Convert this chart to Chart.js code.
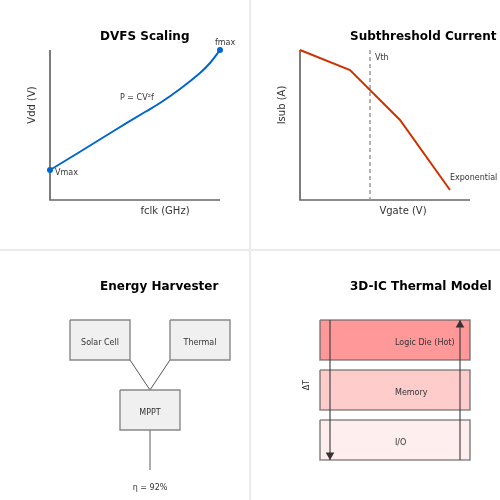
<!DOCTYPE html>
<html>
<head>
<meta charset="utf-8">
<script src="https://cdn.jsdelivr.net/npm/chart.js@4.4.1/dist/chart.umd.min.js"></script>
<style>
 html, body { margin: 0; padding: 0; background: #fff; }
 #board { display: block; }
</style>
</head>
<body>
<canvas id="board" width="500" height="500"></canvas>
<script>
// --- data (diagram units, 0..500 on both axes) ---
const panelTitles = ['DVFS Scaling', 'Subthreshold Current', 'Energy Harvester', '3D-IC Thermal Model'];

// DVFS curve (fclk vs Vdd)
const dvfsFreq = [50, 78, 112, 145, 160, 180, 200, 210, 220];
const dvfsVdd = [170, 153, 132, 112, 103, 89, 73, 63, 50];

// subthreshold current, piecewise
const vgate = [300, 350, 400, 450];
const isub = [50, 70, 120, 190];
const vthLevel = 370;

// energy harvester blocks
const harvesterBlocks = ['Solar Cell', 'Thermal', 'MPPT'];
const harvesterLeft = [70, 170, 120];
const harvesterTop = [320, 320, 390];
const harvesterWidth = 60;
const harvesterHeight = 40;
const efficiencyLabel = 'η = 92%';

// 3D-IC stack
const stackLayers = ['Logic Die (Hot)', 'Memory', 'I/O'];
const stackTop = [320, 370, 420];
const stackColors = ['#ff9999', '#ffcccc', '#ffeeee'];
const stackLeft = 320, stackRight = 470, stackHeight = 40;

function pts(xs, ys) {
 return xs.map((x, i) => ({ x: x, y: ys[i] }));
}
function box(x0, y0, w, h) {
 return [{x: x0, y: y0}, {x: x0 + w, y: y0}, {x: x0 + w, y: y0 + h}, {x: x0, y: y0 + h}, {x: x0, y: y0}];
}
function seg(data, color, width, extra) {
 return Object.assign({
  type: 'line', data: data, borderColor: color, borderWidth: width,
  pointRadius: 0, tension: 0, fill: false, clip: false, order: 5
 }, extra || {});
}

const datasets = [];

// panel separators
datasets.push(seg([{x: 250, y: 0}, {x: 250, y: 500}], '#ebebeb', 2, {order: 20}));
datasets.push(seg([{x: 0, y: 250}, {x: 500, y: 250}], '#ebebeb', 2, {order: 20}));

// axes of the two plots
datasets.push(seg([{x: 50, y: 50}, {x: 50, y: 200}, {x: 220, y: 200}], '#666', 1.7));
datasets.push(seg([{x: 300, y: 50}, {x: 300, y: 200}, {x: 470, y: 200}], '#666', 1.7));

// DVFS curve + end points
const dvfsPts = pts(dvfsFreq, dvfsVdd);
datasets.push(seg(dvfsPts, '#0066cc', 2, {tension: 0.4, order: 3}));
datasets.push({
 type: 'scatter', data: [dvfsPts[0], dvfsPts[dvfsPts.length - 1]],
 pointRadius: 3, backgroundColor: '#0066cc', borderColor: '#0066cc', borderWidth: 0, clip: false, order: 2
});

// subthreshold
datasets.push(seg([{x: vthLevel, y: 50}, {x: vthLevel, y: 200}], '#999', 1.5, {borderDash: [4, 3], order: 4}));
datasets.push(seg(pts(vgate, isub), '#cc3300', 2, {order: 3}));

// harvester boxes and wiring
harvesterBlocks.forEach((name, i) => {
 datasets.push(seg(box(harvesterLeft[i], harvesterTop[i], harvesterWidth, harvesterHeight), '#888', 1.4,
  {fill: 'shape', backgroundColor: '#f0f0f0', order: 8}));
});
const mpptTopMid = {x: harvesterLeft[2] + harvesterWidth / 2, y: harvesterTop[2]};
datasets.push(seg([{x: harvesterLeft[0] + harvesterWidth, y: harvesterTop[0] + harvesterHeight}, mpptTopMid], '#555', 1, {order: 9}));
datasets.push(seg([{x: harvesterLeft[1], y: harvesterTop[1] + harvesterHeight}, mpptTopMid], '#555', 1, {order: 9}));
datasets.push(seg([{x: mpptTopMid.x, y: harvesterTop[2] + harvesterHeight}, {x: mpptTopMid.x, y: 470}], '#999', 1.6, {order: 9}));

// 3D-IC stack
stackLayers.forEach((name, i) => {
 datasets.push(seg(box(stackLeft, stackTop[i], stackRight - stackLeft, stackHeight), 'rgba(100,100,100,0.75)', 1.6,
  {fill: 'shape', backgroundColor: stackColors[i], order: 8}));
});
const stackBottom = stackTop[stackTop.length - 1] + stackHeight;
datasets.push(seg([{x: 330, y: stackTop[0]}, {x: 330, y: stackBottom}], 'rgba(60,60,60,0.7)', 1.6, {order: 2}));
datasets.push(seg([{x: 460, y: stackBottom}, {x: 460, y: stackTop[0]}], 'rgba(60,60,60,0.7)', 1.6, {order: 2}));
datasets.push({
 type: 'scatter', data: [{x: 330, y: stackBottom - 5}, {x: 460, y: stackTop[0] + 5}],
 pointStyle: 'triangle', pointRadius: 5, rotation: [180, 0], backgroundColor: '#333', borderColor: '#333',
 borderWidth: 0, clip: false, order: 1
});

// text labels
const FONT = '"DejaVu Sans", sans-serif';
const labels = [
 {t: panelTitles[0], x: 100, y: 36.5, s: 12, b: true, c: '#000'},
 {t: panelTitles[1], x: 350, y: 36.5, s: 12, b: true, c: '#000'},
 {t: panelTitles[2], x: 100, y: 286.5, s: 12, b: true, c: '#000'},
 {t: panelTitles[3], x: 350, y: 286.5, s: 12, b: true, c: '#000'},
 {t: 'fclk (GHz)', x: 165, y: 211.5, s: 10, a: 'center'},
 {t: 'Vdd (V)', x: 32, y: 105, s: 10, a: 'center', r: true},
 {t: 'Vmax', x: 55, y: 172.5, s: 8},
 {t: 'fmax', x: 215, y: 42.5, s: 8},
 {t: 'P = CV²f', x: 120, y: 97.5, s: 8},
 {t: 'Vgate (V)', x: 403, y: 211.5, s: 10, a: 'center'},
 {t: 'Isub (A)', x: 282, y: 105, s: 10, a: 'center', r: true},
 {t: 'Vth', x: 375, y: 57.5, s: 8},
 {t: 'Exponential', x: 450, y: 177.5, s: 8},
 {t: efficiencyLabel, x: 150, y: 487.5, s: 8, a: 'center'},
 {t: 'ΔT', x: 307, y: 385, s: 8, a: 'center', r: true}
];
harvesterBlocks.forEach((name, i) => {
 labels.push({t: name, x: harvesterLeft[i] + harvesterWidth / 2, y: harvesterTop[i] + harvesterHeight / 2 + 2.5, s: 8, a: 'center'});
});
stackLayers.forEach((name, i) => {
 labels.push({t: name, x: 395, y: stackTop[i] + stackHeight / 2 + 2.5, s: 8});
});

const textPlugin = {
 id: 'diagramText',
 afterDatasetsDraw(chart) {
  const ctx = chart.ctx, xs = chart.scales.x, ys = chart.scales.y;
  labels.forEach(l => {
   ctx.save();
   ctx.font = (l.b ? 'bold ' : '') + l.s + 'px ' + FONT;
   ctx.fillStyle = l.c || '#333';
   ctx.textAlign = l.a || 'left';
   ctx.textBaseline = 'middle';
   ctx.translate(xs.getPixelForValue(l.x), ys.getPixelForValue(l.y));
   if (l.r) ctx.rotate(-Math.PI / 2);
   ctx.fillText(l.t, 0, 0);
   ctx.restore();
  });
 }
};

new Chart(document.getElementById('board'), {
 type: 'scatter',
 data: { datasets: datasets },
 options: {
  responsive: false,
  animation: false,
  devicePixelRatio: 1,
  layout: { padding: 0, autoPadding: false },
  scales: {
   x: { type: 'linear', min: 0, max: 500, display: false },
   y: { type: 'linear', min: 0, max: 500, reverse: true, display: false }
  },
  plugins: { legend: { display: false }, tooltip: { enabled: false } }
 },
 plugins: [textPlugin]
});
</script>
</body>
</html>
